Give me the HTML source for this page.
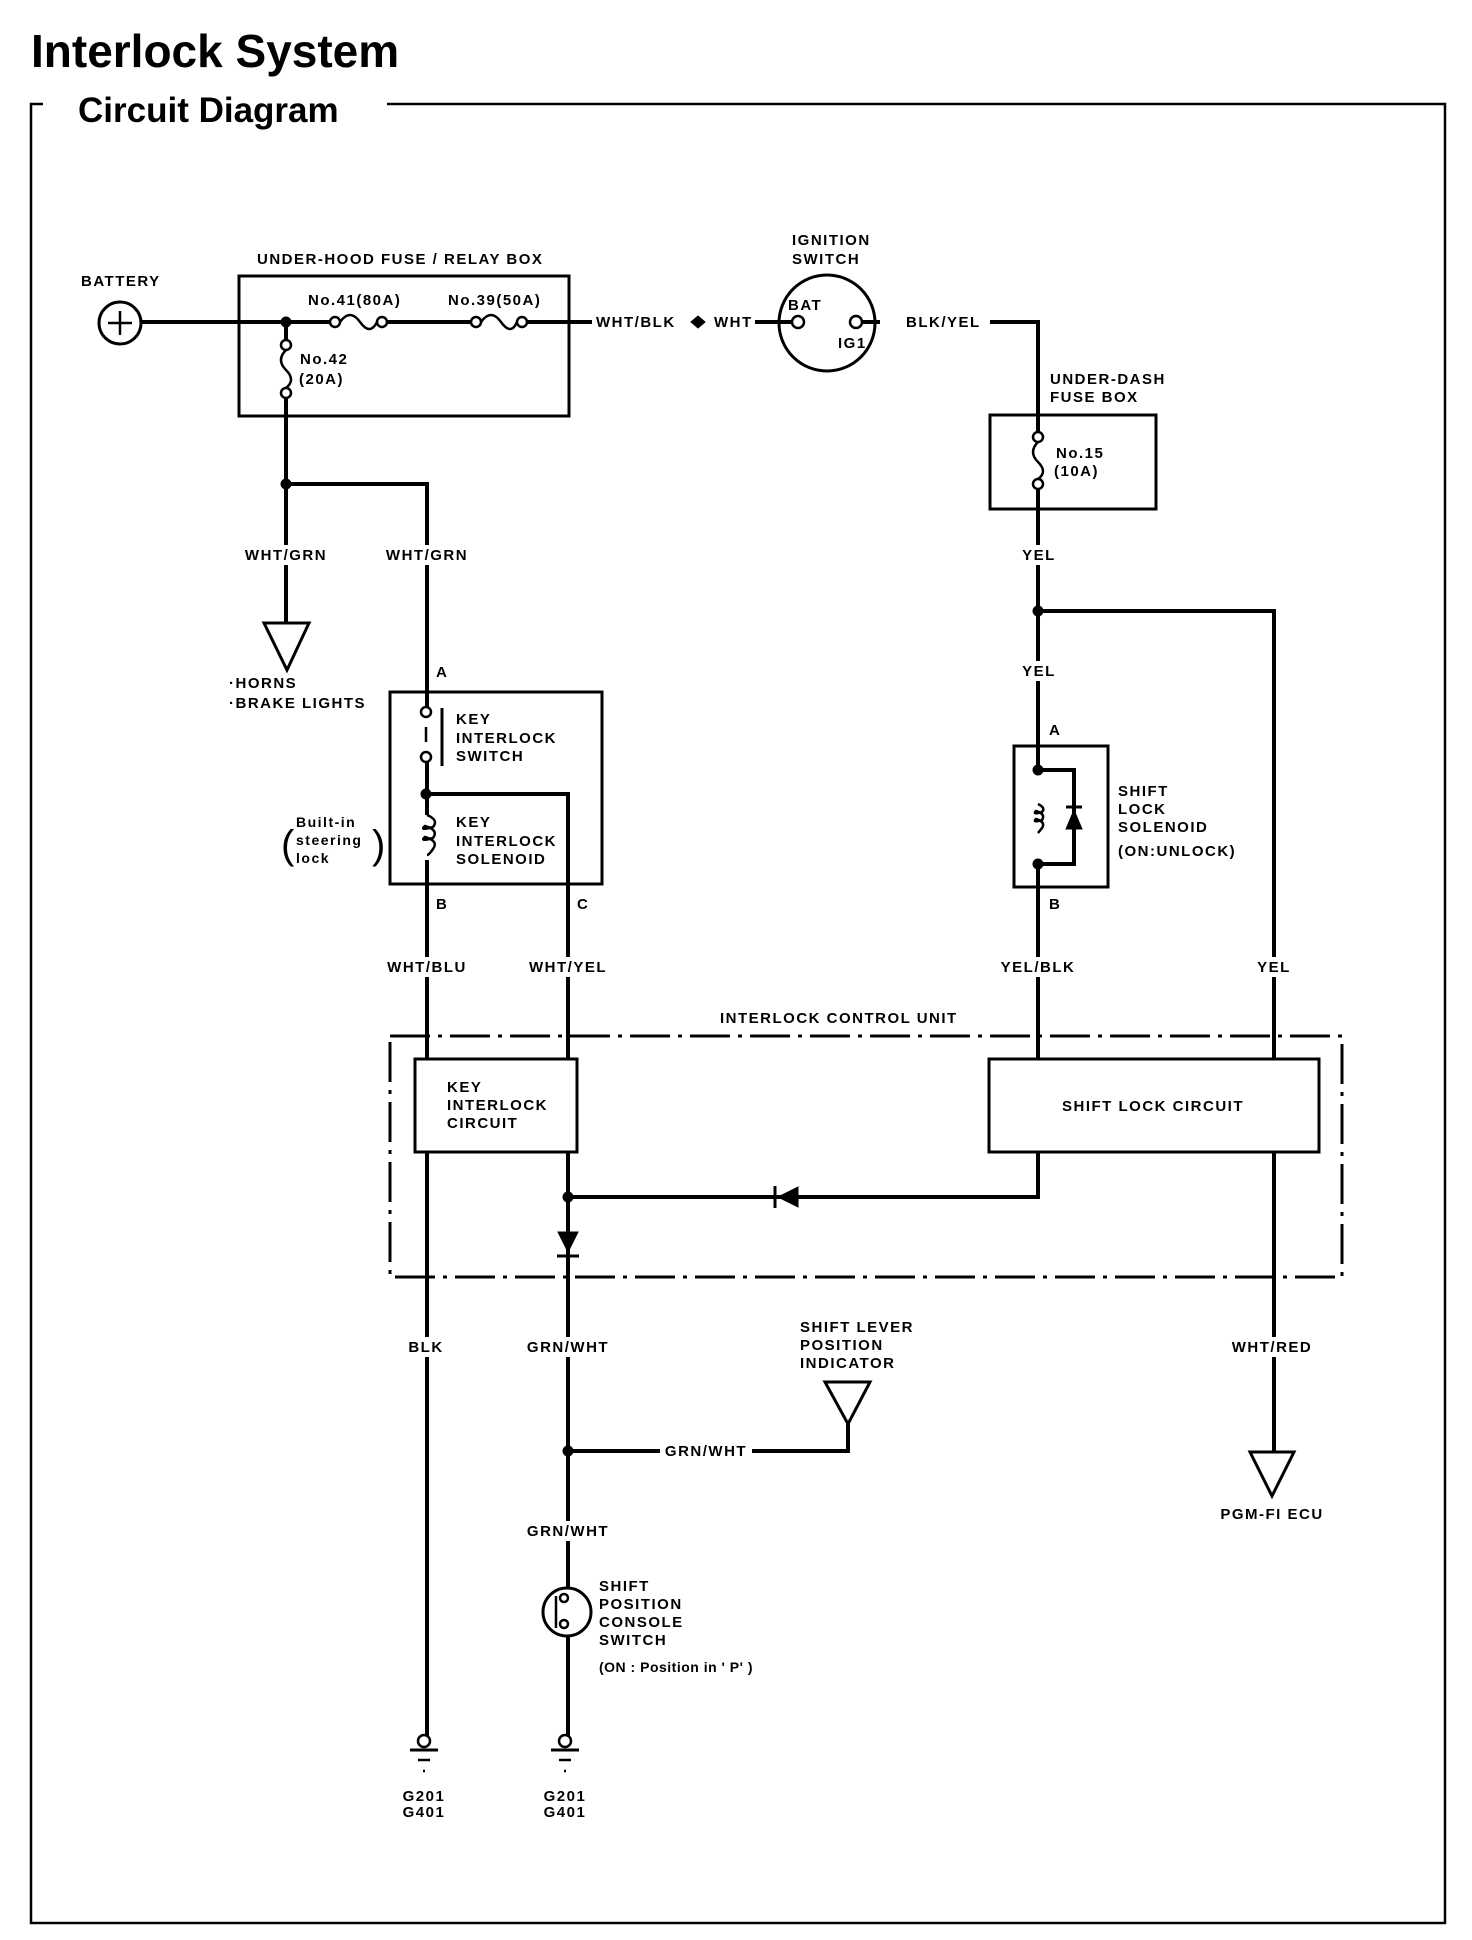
<!DOCTYPE html>
<html><head><meta charset="utf-8"><style>
html,body{margin:0;padding:0;background:#fff;}
svg{display:block;}
text{font-family:"Liberation Sans Narrow","Liberation Sans",sans-serif;font-weight:bold;fill:#000;}
.s{font-size:15px;letter-spacing:1.5px;}
</style></head><body>
<svg width="1472" height="1940" viewBox="0 0 1472 1940" xmlns="http://www.w3.org/2000/svg">
<text x="31" y="67" style="font-family:'Liberation Sans',sans-serif;font-size:46px;font-weight:bold;">Interlock System</text>
<text x="78" y="122" style="font-family:'Liberation Sans',sans-serif;font-size:35px;font-weight:bold;">Circuit Diagram</text>
<g fill="none" stroke="#000" stroke-width="2.5">
<polyline points="31,112 31,104 43,104"/>
<polyline points="387,104 1445,104 1445,1923 31,1923 31,112"/>
</g>
<g fill="none" stroke="#000" stroke-width="4">
<line x1="141" y1="322" x2="330" y2="322"/>
<line x1="388" y1="322" x2="471" y2="322"/>
<line x1="528" y1="322" x2="592" y2="322"/>
<line x1="755" y1="322" x2="792" y2="322"/>
<polyline points="862,322 880,322"/>
<polyline points="990,322 1038,322 1038,432"/>
<line x1="1038" y1="489" x2="1038" y2="765"/>
<line x1="1038" y1="868" x2="1038" y2="1059"/>
<line x1="286" y1="322" x2="286" y2="340"/>
<line x1="286" y1="398" x2="286" y2="623"/>
<polyline points="286,484 427,484 427,707"/>
<line x1="427" y1="762" x2="427" y2="815"/>
<line x1="427" y1="860" x2="427" y2="1059"/>
<polyline points="427,794 568,794 568,1059"/>
<line x1="427" y1="1152" x2="427" y2="1737"/>
<line x1="568" y1="1152" x2="568" y2="1588"/>
<line x1="568" y1="1636" x2="568" y2="1737"/>
<polyline points="1038,1152 1038,1197 568,1197"/>
<polyline points="568,1451 848,1451 848,1424"/>
<polyline points="1038,611 1274,611 1274,1059"/>
<line x1="1274" y1="1152" x2="1274" y2="1452"/>
<polyline points="1038,770 1074,770 1074,864 1038,864"/>
</g>
<g fill="#fff">
<rect x="240" y="545" width="92" height="20"/><rect x="381" y="545" width="92" height="20"/>
<rect x="1026" y="545" width="26" height="20"/><rect x="1026" y="661" width="26" height="20"/>
<rect x="381" y="957" width="92" height="20"/><rect x="522" y="957" width="92" height="20"/>
<rect x="994" y="957" width="88" height="20"/><rect x="1260" y="957" width="28" height="20"/>
<rect x="405" y="1337" width="42" height="20"/><rect x="520" y="1337" width="96" height="20"/>
<rect x="1226" y="1337" width="96" height="20"/><rect x="520" y="1521" width="96" height="20"/>
<rect x="660" y="1441" width="92" height="20"/>
</g>
<g fill="none" stroke="#000" stroke-width="3">
<rect x="239" y="276" width="330" height="140"/>
<rect x="990" y="415" width="166" height="94"/>
<rect x="390" y="692" width="212" height="192"/>
<rect x="1014" y="746" width="94" height="141"/>
<rect x="415" y="1059" width="162" height="93"/>
<rect x="989" y="1059" width="330" height="93"/>
<rect x="390" y="1036" width="952" height="241" stroke-dasharray="40 8 4 8"/>
<circle cx="120" cy="323" r="21"/>
<circle cx="827" cy="323" r="48"/>
<circle cx="567" cy="1612" r="24"/>
<polygon points="264,623 309,623 287,670"/>
<polygon points="825,1382 870,1382 848,1424"/>
<polygon points="1250,1452 1294,1452 1272,1496"/>
</g>
<g stroke="#000" stroke-width="2.5" fill="none">
<line x1="108" y1="323" x2="132" y2="323"/><line x1="120" y1="311" x2="120" y2="335"/>
<circle cx="335" cy="322" r="5" fill="#fff"/><path d="M340,322 q10,-14 20,0 q10,14 17,0"/><circle cx="382" cy="322" r="5" fill="#fff"/>
<circle cx="476" cy="322" r="5" fill="#fff"/><path d="M481,322 q10,-14 20,0 q10,14 16,0"/><circle cx="522" cy="322" r="5" fill="#fff"/>
<circle cx="286" cy="345" r="5" fill="#fff"/><path d="M286,350 q-10,10 0,20 q10,10 0,18"/><circle cx="286" cy="393" r="5" fill="#fff"/>
<circle cx="1038" cy="437" r="5" fill="#fff"/><path d="M1038,442 q-10,10 0,20 q10,10 0,17"/><circle cx="1038" cy="484" r="5" fill="#fff"/>
<circle cx="798" cy="322" r="6" fill="#fff"/><circle cx="856" cy="322" r="6" fill="#fff"/>
<circle cx="426" cy="712" r="5" fill="#fff"/><circle cx="426" cy="757" r="5" fill="#fff"/>
<line x1="426" y1="727" x2="426" y2="742"/>
<line x1="442" y1="708" x2="442" y2="766" stroke-width="3"/>
<path d="M427,815 q12,5 6,12 q-14,4 -8,-1 q14,4 8,12 q-14,4 -8,-1 q14,4 8,12 q-4,6 -6,6"/>
<path d="M1038,804 q8,4 4,8 q-10,3 -6,-1 q10,3 6,9 q-10,3 -6,-1 q10,3 6,9 q-4,5 -4,5"/>
<circle cx="564" cy="1598" r="4"/><circle cx="564" cy="1624" r="4"/>
<line x1="556" y1="1596" x2="556" y2="1628"/>
<circle cx="424" cy="1741" r="6" fill="#fff"/><line x1="410" y1="1750" x2="438" y2="1750" stroke-width="3"/><line x1="418" y1="1760" x2="430" y2="1760"/><line x1="423" y1="1771" x2="425" y2="1771"/>
<circle cx="565" cy="1741" r="6" fill="#fff"/><line x1="551" y1="1750" x2="579" y2="1750" stroke-width="3"/><line x1="559" y1="1760" x2="571" y2="1760"/><line x1="564" y1="1771" x2="566" y2="1771"/>
</g>
<g fill="#000" stroke="#000">
<circle cx="286" cy="322" r="5"/><circle cx="286" cy="484" r="5"/>
<circle cx="1038" cy="611" r="5"/><circle cx="426" cy="794" r="5"/>
<circle cx="1038" cy="770" r="5"/><circle cx="1038" cy="864" r="5"/>
<circle cx="568" cy="1197" r="5"/><circle cx="568" cy="1451" r="5"/>
<polygon points="698,316 705,322 698,328 691,322"/>
<polygon points="1066,829 1082,829 1074,810"/><line x1="1066" y1="807" x2="1082" y2="807" stroke-width="3"/>
<polygon points="798,1187 798,1207 778,1197"/><line x1="775" y1="1186" x2="775" y2="1208" stroke-width="3"/>
<polygon points="558,1232 578,1232 568,1252"/><line x1="557" y1="1256" x2="579" y2="1256" stroke-width="3"/>
</g>
<g class="s">
<text x="81" y="286">BATTERY</text>
<text x="257" y="264">UNDER-HOOD FUSE / RELAY BOX</text>
<text x="308" y="305">No.41(80A)</text>
<text x="448" y="305">No.39(50A)</text>
<text x="300" y="364">No.42</text>
<text x="299" y="384">(20A)</text>
<text x="596" y="327">WHT/BLK</text>
<text x="714" y="327">WHT</text>
<text x="792" y="245">IGNITION</text>
<text x="792" y="264">SWITCH</text>
<text x="788" y="310">BAT</text>
<text x="838" y="348">IG1</text>
<text x="906" y="327">BLK/YEL</text>
<text x="1050" y="384">UNDER-DASH</text>
<text x="1050" y="402">FUSE BOX</text>
<text x="1056" y="458">No.15</text>
<text x="1054" y="476">(10A)</text>
<text x="286" y="560" text-anchor="middle">WHT/GRN</text>
<text x="427" y="560" text-anchor="middle">WHT/GRN</text>
<text x="1039" y="560" text-anchor="middle">YEL</text>
<text x="1039" y="676" text-anchor="middle">YEL</text>
<text x="229" y="688">·HORNS</text>
<text x="229" y="708">·BRAKE LIGHTS</text>
<text x="436" y="677">A</text>
<text x="456" y="724">KEY</text>
<text x="456" y="743">INTERLOCK</text>
<text x="456" y="761">SWITCH</text>
<text x="456" y="827">KEY</text>
<text x="456" y="846">INTERLOCK</text>
<text x="456" y="864">SOLENOID</text>
<text x="296" y="827" style="font-size:14px">Built-in</text>
<text x="296" y="845" style="font-size:14px">steering</text>
<text x="296" y="863" style="font-size:14px">lock</text>
<text x="281" y="858" style="font-size:40px;font-weight:normal;letter-spacing:0">(</text>
<text x="372" y="858" style="font-size:40px;font-weight:normal;letter-spacing:0">)</text>
<text x="436" y="909">B</text>
<text x="577" y="909">C</text>
<text x="1049" y="735">A</text>
<text x="1049" y="909">B</text>
<text x="1118" y="796">SHIFT</text>
<text x="1118" y="814">LOCK</text>
<text x="1118" y="832">SOLENOID</text>
<text x="1118" y="856">(ON:UNLOCK)</text>
<text x="427" y="972" text-anchor="middle">WHT/BLU</text>
<text x="568" y="972" text-anchor="middle">WHT/YEL</text>
<text x="1038" y="972" text-anchor="middle">YEL/BLK</text>
<text x="1274" y="972" text-anchor="middle">YEL</text>
<text x="720" y="1023">INTERLOCK CONTROL UNIT</text>
<text x="447" y="1092">KEY</text>
<text x="447" y="1110">INTERLOCK</text>
<text x="447" y="1128">CIRCUIT</text>
<text x="1153" y="1111" text-anchor="middle">SHIFT LOCK CIRCUIT</text>
<text x="426" y="1352" text-anchor="middle">BLK</text>
<text x="568" y="1352" text-anchor="middle">GRN/WHT</text>
<text x="1272" y="1352" text-anchor="middle">WHT/RED</text>
<text x="800" y="1332">SHIFT LEVER</text>
<text x="800" y="1350">POSITION</text>
<text x="800" y="1368">INDICATOR</text>
<text x="706" y="1456" text-anchor="middle">GRN/WHT</text>
<text x="1272" y="1519" text-anchor="middle">PGM-FI ECU</text>
<text x="568" y="1536" text-anchor="middle">GRN/WHT</text>
<text x="599" y="1591">SHIFT</text>
<text x="599" y="1609">POSITION</text>
<text x="599" y="1627">CONSOLE</text>
<text x="599" y="1645">SWITCH</text>
<text x="599" y="1672" style="font-size:14px;letter-spacing:0.5px">(ON : Position in ' P' )</text>
<text x="424" y="1801" text-anchor="middle">G201</text>
<text x="424" y="1817" text-anchor="middle">G401</text>
<text x="565" y="1801" text-anchor="middle">G201</text>
<text x="565" y="1817" text-anchor="middle">G401</text>
</g>
</svg>
</body></html>
